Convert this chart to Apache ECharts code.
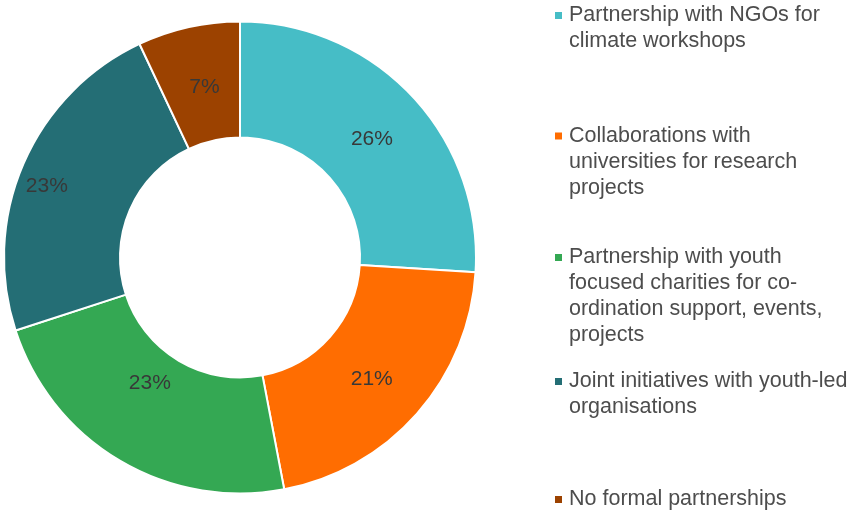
<!DOCTYPE html>
<html>
<head>
<meta charset="utf-8">
<script src="https://cdn.jsdelivr.net/npm/echarts@6/dist/echarts.min.js"></script>
<style>
  html, body { margin: 0; padding: 0; background: #fff; }
  #chart { width: 858px; height: 513px; }
</style>
</head>
<body>
<div id="chart"></div>
<script>
  // slice names, in clockwise order from 12 o'clock
  var categories = [
    'Partnership with NGOs for climate workshops',
    'Collaborations with universities for research projects',
    'Partnership with youth focused charities for co-ordination support, events, projects',
    'Joint initiatives with youth-led organisations',
    'No formal partnerships'
  ]
  // share of responses, percent
  var shares = [26, 21, 23, 23, 7]
  // legend text as wrapped in the original
  var legendLines = [
    ['Partnership with NGOs for', 'climate workshops'],
    ['Collaborations with', 'universities for research', 'projects'],
    ['Partnership with youth', 'focused charities for co-', 'ordination support, events,', 'projects'],
    ['Joint initiatives with youth-led', 'organisations'],
    ['No formal partnerships']
  ]
  var colors = ['#46bdc6', '#ff6d01', '#34a853', '#246e75', '#9c4200']
  // nudges so the % labels sit where the source put them
  var labelNudge = [[0, 6], [-4, 2], [2, -30], [-27, 1], [4, 6]]

  var LINE_H = 26
  var iconCenters = [15.5, 136, 257.5, 381.5, 499.5]

  var chart = echarts.init(document.getElementById('chart'))

  // one legend per item so the uneven vertical spacing can be kept.
  // legend text is centred on the icon, so blank lines are put in front
  // to bring the first real line level with the icon
  var legends = categories.map(function (name, i) {
    var n = legendLines[i].length
    var blank = new Array(n).join('\n')
    return {
      data: [name],
      left: 555,
      top: iconCenters[i] - (2 * n - 1) * LINE_H / 2,
      padding: 0,
      icon: 'rect',
      itemWidth: 7,
      itemHeight: 7,
      itemGap: 0,
      itemStyle: { borderWidth: 0 },
      selectedMode: false,
      formatter: function () {
        return blank + legendLines[i].join('\n')
      },
      textStyle: {
        fontFamily: 'Liberation Sans, Arial, sans-serif',
        fontSize: 21.5,
        color: '#4d4d4d',
        lineHeight: LINE_H,
        padding: [0, 0, 0, 2]
      }
    }
  })

  chart.setOption({
    animation: false,
    color: colors,
    legend: legends,
    series: [{
      type: 'pie',
      center: [240, 257.5],
      radius: [120, 236],
      startAngle: 90,
      clockwise: true,
      itemStyle: {
        borderColor: '#fff',
        borderWidth: 2
      },
      label: {
        show: true,
        position: 'inside',
        formatter: '{c}%',
        fontFamily: 'Liberation Sans, Arial, sans-serif',
        fontSize: 21,
        color: '#383838'
      },
      labelLine: { show: false },
      emphasis: { disabled: true },
      data: categories.map(function (name, i) {
        return { name: name, value: shares[i], label: { offset: labelNudge[i] } }
      })
    }]
  })
</script>
</body>
</html>
